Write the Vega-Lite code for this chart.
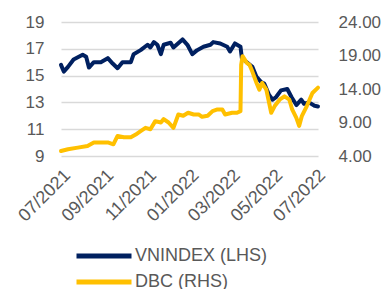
{
  "$schema": "https://vega.github.io/schema/vega-lite/v6.json",
  "width": 257,
  "height": 134,
  "autosize": {"type": "none"},
  "padding": {"left": 61, "top": 22, "right": 70, "bottom": 133},
  "background": "white",
  "config": {
    "view": {"stroke": null},
    "font": "Liberation Sans",
    "axis": {"labelFont": "Liberation Sans", "labelColor": "#595959", "labelFontSize": 17, "title": null, "ticks": false, "domain": false},
    "legend": {"labelFont": "Liberation Sans", "labelColor": "#595959", "labelFontSize": 18}
  },
  "data": {
    "values": [
      {"d": "2021-07-01", "s": "VNINDEX (LHS)", "v": 15.8},
      {"d": "2021-07-05", "s": "VNINDEX (LHS)", "v": 15.3},
      {"d": "2021-07-11", "s": "VNINDEX (LHS)", "v": 15.65},
      {"d": "2021-07-19", "s": "VNINDEX (LHS)", "v": 16.2},
      {"d": "2021-08-01", "s": "VNINDEX (LHS)", "v": 16.55},
      {"d": "2021-08-06", "s": "VNINDEX (LHS)", "v": 16.4},
      {"d": "2021-08-10", "s": "VNINDEX (LHS)", "v": 15.6},
      {"d": "2021-08-17", "s": "VNINDEX (LHS)", "v": 16.0},
      {"d": "2021-08-27", "s": "VNINDEX (LHS)", "v": 16.0},
      {"d": "2021-09-06", "s": "VNINDEX (LHS)", "v": 16.3},
      {"d": "2021-09-13", "s": "VNINDEX (LHS)", "v": 15.9},
      {"d": "2021-09-20", "s": "VNINDEX (LHS)", "v": 15.55},
      {"d": "2021-09-27", "s": "VNINDEX (LHS)", "v": 16.0},
      {"d": "2021-10-09", "s": "VNINDEX (LHS)", "v": 16.0},
      {"d": "2021-10-13", "s": "VNINDEX (LHS)", "v": 16.6},
      {"d": "2021-10-23", "s": "VNINDEX (LHS)", "v": 16.9},
      {"d": "2021-11-02", "s": "VNINDEX (LHS)", "v": 17.3},
      {"d": "2021-11-06", "s": "VNINDEX (LHS)", "v": 17.1},
      {"d": "2021-11-11", "s": "VNINDEX (LHS)", "v": 17.5},
      {"d": "2021-11-16", "s": "VNINDEX (LHS)", "v": 17.3},
      {"d": "2021-11-21", "s": "VNINDEX (LHS)", "v": 16.6},
      {"d": "2021-11-25", "s": "VNINDEX (LHS)", "v": 17.3},
      {"d": "2021-12-05", "s": "VNINDEX (LHS)", "v": 17.45},
      {"d": "2021-12-09", "s": "VNINDEX (LHS)", "v": 17.1},
      {"d": "2021-12-22", "s": "VNINDEX (LHS)", "v": 17.7},
      {"d": "2021-12-29", "s": "VNINDEX (LHS)", "v": 17.3},
      {"d": "2022-01-05", "s": "VNINDEX (LHS)", "v": 16.6},
      {"d": "2022-01-12", "s": "VNINDEX (LHS)", "v": 16.9},
      {"d": "2022-01-21", "s": "VNINDEX (LHS)", "v": 17.15},
      {"d": "2022-01-31", "s": "VNINDEX (LHS)", "v": 17.3},
      {"d": "2022-02-04", "s": "VNINDEX (LHS)", "v": 17.5},
      {"d": "2022-02-14", "s": "VNINDEX (LHS)", "v": 17.4},
      {"d": "2022-02-24", "s": "VNINDEX (LHS)", "v": 17.15},
      {"d": "2022-02-28", "s": "VNINDEX (LHS)", "v": 16.8},
      {"d": "2022-03-07", "s": "VNINDEX (LHS)", "v": 17.4},
      {"d": "2022-03-15", "s": "VNINDEX (LHS)", "v": 17.15},
      {"d": "2022-03-17", "s": "VNINDEX (LHS)", "v": 16.3},
      {"d": "2022-03-24", "s": "VNINDEX (LHS)", "v": 16.0},
      {"d": "2022-04-01", "s": "VNINDEX (LHS)", "v": 15.65},
      {"d": "2022-04-07", "s": "VNINDEX (LHS)", "v": 14.9},
      {"d": "2022-04-14", "s": "VNINDEX (LHS)", "v": 14.5},
      {"d": "2022-04-18", "s": "VNINDEX (LHS)", "v": 14.4},
      {"d": "2022-04-25", "s": "VNINDEX (LHS)", "v": 13.55},
      {"d": "2022-04-30", "s": "VNINDEX (LHS)", "v": 13.2},
      {"d": "2022-05-05", "s": "VNINDEX (LHS)", "v": 13.4},
      {"d": "2022-05-12", "s": "VNINDEX (LHS)", "v": 13.9},
      {"d": "2022-05-21", "s": "VNINDEX (LHS)", "v": 14.0},
      {"d": "2022-05-27", "s": "VNINDEX (LHS)", "v": 13.4},
      {"d": "2022-06-03", "s": "VNINDEX (LHS)", "v": 12.8},
      {"d": "2022-06-10", "s": "VNINDEX (LHS)", "v": 13.2},
      {"d": "2022-06-14", "s": "VNINDEX (LHS)", "v": 12.9},
      {"d": "2022-06-21", "s": "VNINDEX (LHS)", "v": 13.0},
      {"d": "2022-06-29", "s": "VNINDEX (LHS)", "v": 12.75},
      {"d": "2022-07-04", "s": "VNINDEX (LHS)", "v": 12.7},
      {"d": "2021-07-01", "s": "DBC (RHS)", "v": 4.74},
      {"d": "2021-07-11", "s": "DBC (RHS)", "v": 5.0},
      {"d": "2021-07-25", "s": "DBC (RHS)", "v": 5.25},
      {"d": "2021-08-08", "s": "DBC (RHS)", "v": 5.5},
      {"d": "2021-08-17", "s": "DBC (RHS)", "v": 6.0},
      {"d": "2021-08-31", "s": "DBC (RHS)", "v": 6.0},
      {"d": "2021-09-07", "s": "DBC (RHS)", "v": 6.0},
      {"d": "2021-09-14", "s": "DBC (RHS)", "v": 5.75},
      {"d": "2021-09-20", "s": "DBC (RHS)", "v": 7.0},
      {"d": "2021-09-29", "s": "DBC (RHS)", "v": 6.8},
      {"d": "2021-10-09", "s": "DBC (RHS)", "v": 6.8},
      {"d": "2021-10-16", "s": "DBC (RHS)", "v": 7.2},
      {"d": "2021-10-23", "s": "DBC (RHS)", "v": 7.7},
      {"d": "2021-10-30", "s": "DBC (RHS)", "v": 8.2},
      {"d": "2021-11-06", "s": "DBC (RHS)", "v": 8.0},
      {"d": "2021-11-13", "s": "DBC (RHS)", "v": 9.2},
      {"d": "2021-11-21", "s": "DBC (RHS)", "v": 9.0},
      {"d": "2021-11-25", "s": "DBC (RHS)", "v": 9.5},
      {"d": "2021-12-02", "s": "DBC (RHS)", "v": 9.0},
      {"d": "2021-12-09", "s": "DBC (RHS)", "v": 8.2},
      {"d": "2021-12-16", "s": "DBC (RHS)", "v": 10.2},
      {"d": "2021-12-23", "s": "DBC (RHS)", "v": 10.0},
      {"d": "2021-12-30", "s": "DBC (RHS)", "v": 10.45},
      {"d": "2022-01-07", "s": "DBC (RHS)", "v": 10.2},
      {"d": "2022-01-14", "s": "DBC (RHS)", "v": 10.2},
      {"d": "2022-01-19", "s": "DBC (RHS)", "v": 9.85},
      {"d": "2022-01-27", "s": "DBC (RHS)", "v": 10.0},
      {"d": "2022-02-03", "s": "DBC (RHS)", "v": 10.7},
      {"d": "2022-02-10", "s": "DBC (RHS)", "v": 10.95},
      {"d": "2022-02-17", "s": "DBC (RHS)", "v": 10.95},
      {"d": "2022-02-21", "s": "DBC (RHS)", "v": 10.2},
      {"d": "2022-03-03", "s": "DBC (RHS)", "v": 10.45},
      {"d": "2022-03-10", "s": "DBC (RHS)", "v": 10.45},
      {"d": "2022-03-15", "s": "DBC (RHS)", "v": 10.7},
      {"d": "2022-03-16", "s": "DBC (RHS)", "v": 17.6},
      {"d": "2022-03-18", "s": "DBC (RHS)", "v": 18.9},
      {"d": "2022-03-24", "s": "DBC (RHS)", "v": 17.9},
      {"d": "2022-03-28", "s": "DBC (RHS)", "v": 17.6},
      {"d": "2022-04-01", "s": "DBC (RHS)", "v": 16.6},
      {"d": "2022-04-07", "s": "DBC (RHS)", "v": 14.9},
      {"d": "2022-04-11", "s": "DBC (RHS)", "v": 13.9},
      {"d": "2022-04-15", "s": "DBC (RHS)", "v": 14.9},
      {"d": "2022-04-21", "s": "DBC (RHS)", "v": 13.9},
      {"d": "2022-04-28", "s": "DBC (RHS)", "v": 10.45},
      {"d": "2022-05-03", "s": "DBC (RHS)", "v": 11.45},
      {"d": "2022-05-10", "s": "DBC (RHS)", "v": 12.4},
      {"d": "2022-05-17", "s": "DBC (RHS)", "v": 12.9},
      {"d": "2022-05-24", "s": "DBC (RHS)", "v": 12.4},
      {"d": "2022-05-28", "s": "DBC (RHS)", "v": 10.95},
      {"d": "2022-06-03", "s": "DBC (RHS)", "v": 9.7},
      {"d": "2022-06-07", "s": "DBC (RHS)", "v": 8.5},
      {"d": "2022-06-11", "s": "DBC (RHS)", "v": 10.0},
      {"d": "2022-06-18", "s": "DBC (RHS)", "v": 11.45},
      {"d": "2022-06-26", "s": "DBC (RHS)", "v": 13.4},
      {"d": "2022-07-04", "s": "DBC (RHS)", "v": 14.2}
    ]
  },
  "encoding": {
    "x": {
      "field": "d", "type": "temporal",
      "scale": {"domain": ["2021-07-01", "2022-07-04"]},
      "axis": {
        "format": "%m/%Y", "labelAngle": -45, "labelPadding": 10, "labelOverlap": false, "labelBound": false, "labelFlush": false, "labelFontSize": 18,
        "values": ["2021-07-01", "2021-09-01", "2021-11-01", "2022-01-01", "2022-03-01", "2022-05-01", "2022-07-01"],
        "grid": false
      }
    },
    "color": {
      "field": "s", "type": "nominal",
      "scale": {"domain": ["VNINDEX (LHS)", "DBC (RHS)"], "range": ["#002060", "#FFC000"]},
      "legend": {
        "title": null, "orient": "none", "legendX": 34, "legendY": 225, "direction": "vertical",
        "symbolType": "M-5,0H5", "symbolSize": 121, "symbolStrokeWidth": 5,
        "labelOffset": 22, "rowPadding": 6
      }
    }
  },
  "layer": [
    {
      "transform": [{"filter": "datum.s === 'VNINDEX (LHS)'"}],
      "mark": {"type": "line", "strokeWidth": 4, "strokeJoin": "round", "strokeCap": "round"},
      "encoding": {
        "y": {
          "field": "v", "type": "quantitative",
          "scale": {"domain": [9, 19], "zero": false, "nice": false},
          "axis": {"orient": "left", "values": [9, 11, 13, 15, 17, 19], "grid": true, "gridColor": "#D9D9D9", "gridWidth": 1.5, "labelPadding": 17}
        }
      }
    },
    {
      "transform": [{"filter": "datum.s === 'DBC (RHS)'"}],
      "mark": {"type": "line", "strokeWidth": 4, "strokeJoin": "round", "strokeCap": "round"},
      "encoding": {
        "y": {
          "field": "v", "type": "quantitative",
          "scale": {"domain": [4, 24], "zero": false, "nice": false},
          "axis": {"orient": "right", "values": [4, 9, 14, 19, 24], "format": ".2f", "grid": false, "labelPadding": 20}
        }
      }
    }
  ],
  "resolve": {"scale": {"y": "independent"}}
}
